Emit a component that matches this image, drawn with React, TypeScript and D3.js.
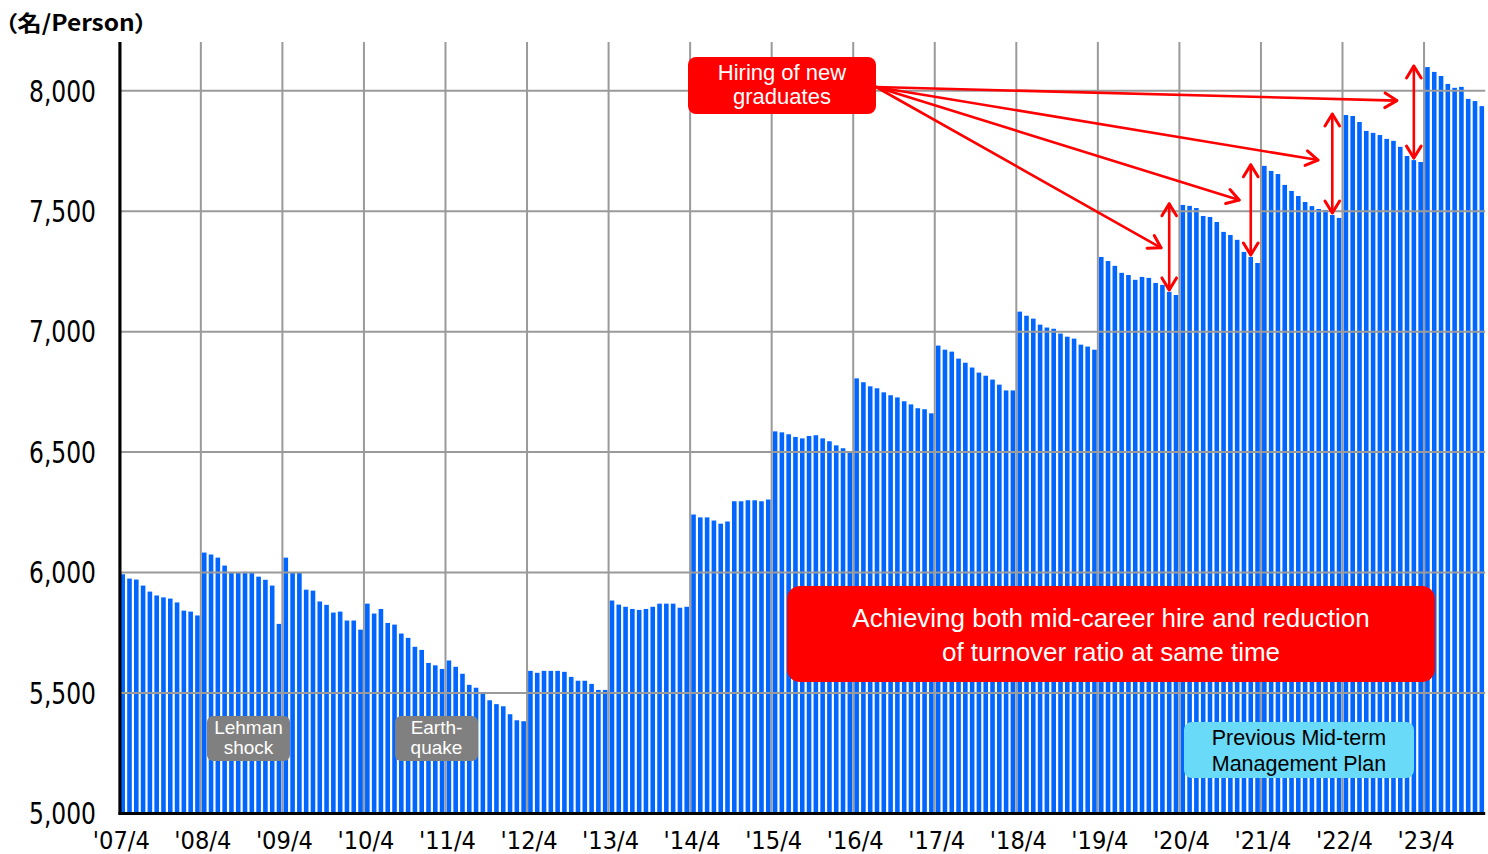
import React from "react";
import * as d3 from "d3";

// Monthly headcount, fiscal years starting in April ('07/4 .. '23/12)
const fy2007 = [5993, 5975, 5971, 5946, 5921, 5905, 5897, 5892, 5876, 5842, 5838, 5822];
const fy2008 = [6083, 6075, 6062, 6029, 5999, 5999, 6003, 5999, 5983, 5970, 5946, 5787];
const fy2009 = [6062, 5999, 5999, 5929, 5925, 5880, 5866, 5834, 5838, 5801, 5801, 5763];
const fy2010 = [5871, 5830, 5849, 5791, 5784, 5747, 5729, 5692, 5679, 5625, 5615, 5600];
const fy2011 = [5635, 5609, 5580, 5534, 5522, 5501, 5470, 5454, 5445, 5412, 5387, 5383];
const fy2012 = [5592, 5584, 5592, 5592, 5592, 5588, 5567, 5551, 5551, 5538, 5513, 5513];
const fy2013 = [5884, 5867, 5858, 5849, 5845, 5849, 5858, 5871, 5871, 5871, 5854, 5858];
const fy2014 = [6241, 6229, 6229, 6216, 6203, 6212, 6296, 6296, 6300, 6300, 6296, 6303];
const fy2015 = [6586, 6582, 6574, 6563, 6557, 6567, 6570, 6557, 6545, 6528, 6516, 6503];
const fy2016 = [6806, 6790, 6773, 6765, 6748, 6736, 6727, 6711, 6698, 6682, 6678, 6661];
const fy2017 = [6942, 6925, 6917, 6888, 6871, 6851, 6830, 6817, 6801, 6780, 6756, 6756];
const fy2018 = [7083, 7066, 7054, 7029, 7017, 7012, 6992, 6979, 6971, 6946, 6938, 6925];
const fy2019 = [7310, 7293, 7273, 7244, 7235, 7215, 7227, 7223, 7202, 7194, 7165, 7152];
const fy2020 = [7526, 7522, 7513, 7480, 7476, 7455, 7414, 7401, 7381, 7331, 7310, 7285];
const fy2021 = [7688, 7667, 7654, 7609, 7584, 7563, 7538, 7521, 7509, 7505, 7484, 7472];
const fy2022 = [7899, 7895, 7870, 7833, 7825, 7816, 7800, 7792, 7767, 7729, 7712, 7704];
const fy2023 = [8098, 8078, 8061, 8028, 8012, 8016, 7966, 7957, 7936];

const yearLabels = ["'07/4", "'08/4", "'09/4", "'10/4", "'11/4", "'12/4", "'13/4", "'14/4", "'15/4",
  "'16/4", "'17/4", "'18/4", "'19/4", "'20/4", "'21/4", "'22/4", "'23/4"];
const yTicks = [5000, 5500, 6000, 6500, 7000, 7500, 8000];

// New-graduate hiring: April index of the fiscal year (vertical double arrows)
const hiringAprilIdx = [156, 168, 180, 192];
// Tips of the diagonal arrows from the "Hiring" box (month index, persons)
const hiringTipIdx = [153.3, 164.8, 176.4, 188.0];
const hiringTipVal = [7348, 7546, 7712, 7959];

const values: number[] = [
  ...fy2007, ...fy2008, ...fy2009, ...fy2010, ...fy2011, ...fy2012, ...fy2013, ...fy2014, ...fy2015,
  ...fy2016, ...fy2017, ...fy2018, ...fy2019, ...fy2020, ...fy2021, ...fy2022, ...fy2023,
];

const W = 1488, H = 854;
const plotLeft = 119.3, plotRight = 1485.2, plotTop = 42, plotBottom = 813.5;

function headPath(tx: number, ty: number, ang: number, L = 14, phi = 0.55) {
  const a1 = ang - phi, a2 = ang + phi;
  return `M${tx - L * Math.cos(a1)},${ty - L * Math.sin(a1)}L${tx},${ty}L${tx - L * Math.cos(a2)},${ty - L * Math.sin(a2)}`;
}

export default function App() {
  const x = d3.scaleLinear().domain([0, values.length]).range([plotLeft, plotRight]);
  const y = d3.scaleLinear().domain([5000, 8000]).range([plotBottom, 90.7]);
  const step = x(1) - x(0);
  const gap = 2.2;
  const red = "#ff0000";
  const labelFont = "'Liberation Sans Narrow', 'DejaVu Sans Condensed', 'Liberation Sans', sans-serif";
  const boxFont = "'Liberation Sans', Arial, sans-serif";

  const startX = 876, startY = 87;

  return (
    <svg width={W} height={H} style={{ position: "absolute", left: 0, top: 0, background: "#fff" }}>
      <rect x={0} y={0} width={W} height={H} fill="#fff" />
      {/* bars */}
      <g>
        {values.map((v, i) => (
          <rect key={i} x={x(i) + gap / 2} y={y(v)} width={step - gap} height={plotBottom - y(v)} fill="#0066ff" />
        ))}
      </g>
      {/* grid */}
      <g stroke="#9a9a9a" strokeWidth={2}>
        {yTicks.filter((t) => t > 5000).map((t) => (
          <line key={t} x1={plotLeft} x2={plotRight} y1={y(t)} y2={y(t)} />
        ))}
        {yearLabels.map((_, k) => (
          <line key={k} x1={x(12 * k)} x2={x(12 * k)} y1={plotTop} y2={plotBottom} />
        ))}
      </g>
      {/* axes */}
      <line x1={120} x2={120} y1={plotTop} y2={plotBottom + 1.5} stroke="#000" strokeWidth={3} />
      <line x1={118.5} x2={plotRight} y1={plotBottom} y2={plotBottom} stroke="#000" strokeWidth={3} />
      {/* y labels */}
      <g fontFamily={labelFont} fontSize={30} fill="#000">
        {yTicks.map((t) => (
          <text key={t} x={96} y={y(t) + 10.8} textAnchor="end" textLength={67} lengthAdjust="spacingAndGlyphs">
            {d3.format(",")(t)}
          </text>
        ))}
      </g>
      {/* x labels */}
      <g fontFamily={labelFont} fontSize={24.5} fill="#000">
        {yearLabels.map((l, k) => (
          <text key={l} x={x(12 * k) + 2} y={848.5} textAnchor="middle" textLength={57} lengthAdjust="spacingAndGlyphs">
            {l}
          </text>
        ))}
      </g>
      {/* unit */}
      <text x={5} y={31} fontFamily="'Noto Sans CJK JP', sans-serif" fontWeight="bold" fontSize={22} fill="#000"
        style={{ fontFeatureSettings: "'palt' 1" }} textLength={142} lengthAdjust="spacingAndGlyphs">（名/Person）</text>

      {/* Lehman / Earthquake labels */}
      <g fontFamily={boxFont} fontSize={19} fill="#fff" textAnchor="middle">
        <rect x={207} y={716} width={83} height={45} rx={6} fill="#808080" />
        <text x={248.5} y={733.5}>Lehman</text>
        <text x={248.5} y={753.5}>shock</text>
        <rect x={395} y={716} width={83} height={45} rx={6} fill="#808080" />
        <text x={436.5} y={733.5}>Earth-</text>
        <text x={436.5} y={753.5}>quake</text>
      </g>

      {/* Previous mid-term plan */}
      <g fontFamily={boxFont} fontSize={21.5} fill="#000" textAnchor="middle">
        <rect x={1184} y={722} width={230} height={56} rx={8} fill="#69dbf8" />
        <text x={1299} y={745}>Previous Mid-term</text>
        <text x={1299} y={771}>Management Plan</text>
      </g>

      {/* Achieving both ... */}
      <g fontFamily={boxFont} fontSize={26} fill="#fff" textAnchor="middle">
        <rect x={787} y={586} width={648} height={96} rx={13} fill={red} />
        <text x={1111} y={627}>Achieving both mid-career hire and reduction</text>
        <text x={1111} y={661}>of turnover ratio at same time</text>
      </g>

      {/* hiring arrows */}
      <g stroke={red} fill="none" strokeWidth={2.6} strokeLinecap="round" strokeLinejoin="round">
        {hiringTipIdx.map((ti, j) => {
          const tx = x(ti), ty = y(hiringTipVal[j]);
          const ang = Math.atan2(ty - startY, tx - startX);
          return (
            <g key={j}>
              <line x1={startX} y1={startY} x2={tx} y2={ty} />
              <path d={headPath(tx, ty, ang)} strokeWidth={3} />
            </g>
          );
        })}
        {hiringAprilIdx.map((ai, j) => {
          const vx = x(ai - 2) + step / 2;
          const y1 = y(values[ai]) - 1;
          const y2 = y(values[ai - 2]) - 2;
          return (
            <g key={"v" + j}>
              <line x1={vx} x2={vx} y1={y1} y2={y2} />
              <path d={headPath(vx, y1, -Math.PI / 2)} strokeWidth={3} />
              <path d={headPath(vx, y2, Math.PI / 2)} strokeWidth={3} />
            </g>
          );
        })}
      </g>

      {/* Hiring of new graduates */}
      <g fontFamily={boxFont} fontSize={22} fill="#fff" textAnchor="middle">
        <rect x={688} y={57} width={188} height={57} rx={8} fill={red} />
        <text x={782} y={80}>Hiring of new</text>
        <text x={782} y={104}>graduates</text>
      </g>
    </svg>
  );
}
